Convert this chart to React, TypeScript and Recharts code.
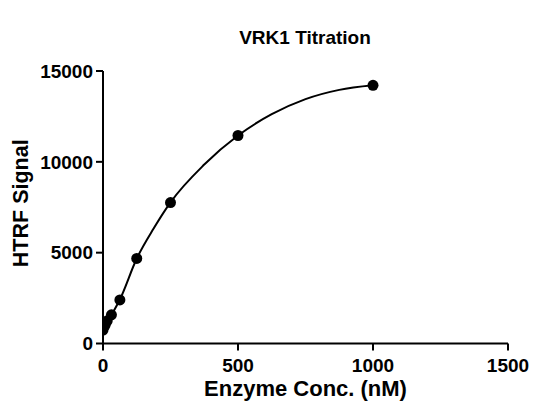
import React from "react";
import { ComposedChart, Line, Scatter, XAxis, YAxis, Label } from "recharts";

// Measured data points (Enzyme conc. nM vs HTRF signal)
const conc = [0, 7.8, 15.6, 31.25, 62.5, 125, 250, 500, 1000];
const signal = [740, 1000, 1250, 1580, 2400, 4680, 7760, 11450, 14210];

// Fitted curve
const fitConc = [0, 31.25, 62.5, 125, 187.5, 250, 375, 500, 625, 750, 875, 1000];
const fitSignal = [740, 1560, 2420, 4680, 6330, 7770, 9850, 11450, 12620, 13450, 13960, 14210];

const xTicks = [0, 500, 1000, 1500];
const yTicks = [0, 5000, 10000, 15000];

const title = "VRK1 Titration";
const xTitle = "Enzyme Conc. (nM)";
const yTitle = "HTRF Signal";

const points = conc.map((c, i) => ({ x: c, y: signal[i] }));
const fit = fitConc.map((c, i) => ({ x: c, fy: fitSignal[i] }));

const FONT = "'Liberation Sans', Arial, sans-serif";

export default function App() {
  return (
    <div
      style={{
        position: "absolute",
        left: 0,
        top: 0,
        width: 533,
        height: 408,
        overflow: "hidden",
        background: "#fff",
        fontFamily: FONT,
      }}
    >
      <div
        style={{
          position: "absolute",
          left: 305 - 150,
          width: 300,
          top: 27,
          textAlign: "center",
          fontWeight: "bold",
          fontSize: 19,
          lineHeight: "22px",
          color: "#000",
        }}
      >
        {title}
      </div>
      <ComposedChart
        width={533}
        height={408}
        margin={{ top: 71, right: 25, left: 0, bottom: 0 }}
      >
        <XAxis
          type="number"
          dataKey="x"
          domain={[0, 1500]}
          ticks={xTicks}
          allowDataOverflow
          height={64.5}
          stroke="#000"
          strokeWidth={2}
          tickSize={7}
          tickMargin={8}
          tick={{ fill: "#000", fontSize: 19, fontWeight: "bold", fontFamily: FONT }}
          tickLine={{ stroke: "#000", strokeWidth: 2 }}
        >
          <Label
            content={(props: any) => {
              const vb = props.viewBox || {};
              return (
                <text
                  x={vb.x + vb.width / 2}
                  y={vb.y + 52.5}
                  textAnchor="middle"
                  fontFamily={FONT}
                  fontWeight="bold"
                  fontSize={22}
                  fill="#000"
                >
                  {xTitle}
                </text>
              );
            }}
          />
        </XAxis>
        <YAxis
          type="number"
          domain={[0, 15000]}
          ticks={yTicks}
          width={103}
          stroke="#000"
          strokeWidth={2}
          tickSize={7}
          tickMargin={3}
          tick={{ fill: "#000", fontSize: 19, fontWeight: "bold", fontFamily: FONT }}
          tickLine={{ stroke: "#000", strokeWidth: 2 }}
        >
          <Label
            content={(props: any) => {
              const vb = props.viewBox || {};
              const cy = vb.y + vb.height / 2 - 4;
              return (
                <text
                  x={28}
                  y={cy}
                  transform={`rotate(-90, 28, ${cy})`}
                  textAnchor="middle"
                  fontFamily={FONT}
                  fontWeight="bold"
                  fontSize={21.5}
                  fill="#000"
                >
                  {yTitle}
                </text>
              );
            }}
          />
        </YAxis>
        <Line
          data={fit}
          dataKey="fy"
          type="monotone"
          stroke="#000"
          strokeWidth={2}
          dot={false}
          activeDot={false}
          isAnimationActive={false}
        />
        <Scatter
          data={points}
          dataKey="y"
          fill="#000"
          shape={(p: any) => <circle cx={p.cx} cy={p.cy} r={5.5} fill="#000" />}
          isAnimationActive={false}
        />
      </ComposedChart>
    </div>
  );
}
